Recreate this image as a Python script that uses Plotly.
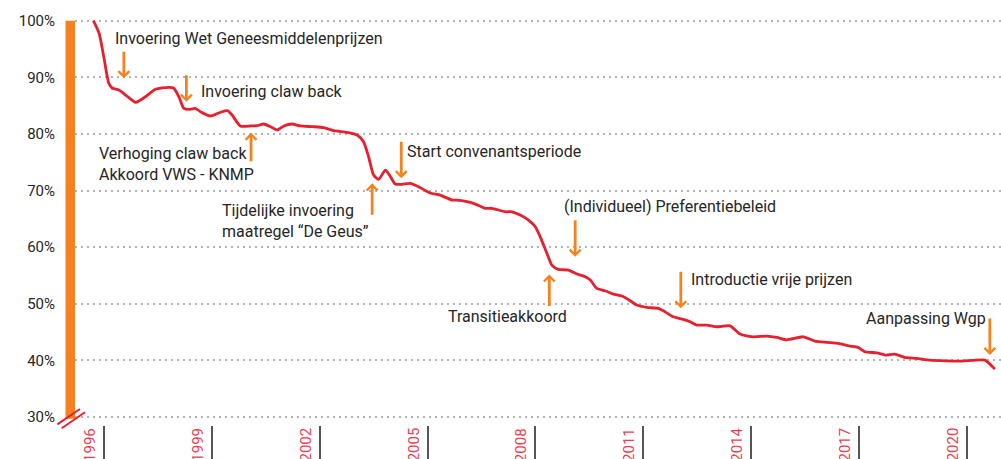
import plotly.graph_objects as go

# ---- data (year, index %) ----
years = [1995.70, 1995.86, 1995.99, 1996.13, 1996.23, 1996.41, 1996.60, 1996.88, 1997.15, 1997.43,
         1997.80, 1997.94, 1998.08, 1998.22, 1998.40, 1998.54, 1998.68, 1998.96, 1999.24, 1999.43,
         1999.56, 1999.79, 2000.07, 2000.26, 2000.44, 2000.63, 2000.82, 2001.00, 2001.23, 2001.46,
         2001.83, 2002.11, 2002.39, 2002.76, 2003.04, 2003.22, 2003.36, 2003.50, 2003.64, 2003.83,
         2003.97, 2004.10, 2004.29, 2004.52, 2004.75, 2005.07, 2005.35, 2005.68, 2005.82, 2006.10,
         2006.33, 2006.61, 2006.79, 2007.16, 2007.35, 2007.58, 2007.81, 2008.00, 2008.14, 2008.32,
         2008.46, 2008.64, 2008.92, 2009.16, 2009.39, 2009.53, 2009.71, 2009.94, 2010.17, 2010.41,
         2010.64, 2010.82, 2011.10, 2011.42, 2011.61, 2011.84, 2012.12, 2012.31, 2012.49, 2012.77,
         2013.05, 2013.42, 2013.70, 2014.07, 2014.44, 2014.72, 2014.99, 2015.46, 2015.78, 2016.11,
         2016.43, 2016.76, 2016.98, 2017.17, 2017.50, 2017.77, 2018.00, 2018.28, 2018.61, 2018.98,
         2019.44, 2019.81, 2020.18, 2020.51, 2020.79]
index_pct = [100.0, 97.77, 93.64, 88.94, 88.06, 87.76, 86.87, 85.58, 86.57, 87.88,
             88.23, 88.06, 86.57, 84.52, 84.35, 84.52, 83.92, 83.16, 83.82, 84.10,
             83.34, 81.40, 81.40, 81.45, 81.75, 81.27, 80.69, 81.40, 81.75, 81.40,
             81.27, 81.10, 80.57, 80.28, 79.81, 78.62, 75.97, 72.74, 71.98, 73.62,
             72.44, 71.15, 71.10, 71.27, 70.67, 69.56, 69.20, 68.32, 68.32, 68.02,
             67.61, 66.86, 66.86, 66.25, 66.25, 65.67, 64.79, 63.60, 61.78, 58.96,
             56.84, 56.08, 55.95, 55.25, 54.77, 54.19, 52.72, 52.30, 51.71, 51.36,
             50.53, 49.77, 49.36, 49.19, 48.59, 47.70, 47.24, 46.82, 46.24, 46.24,
             45.94, 46.11, 44.65, 44.17, 44.29, 44.06, 43.64, 44.17, 43.41, 43.18,
             43.00, 42.53, 42.30, 41.52, 41.34, 40.94, 41.11, 40.53, 40.35, 40.05,
             39.93, 39.88, 40.00, 40.05, 38.46]

tick_years = [1996, 1999, 2002, 2005, 2008, 2011, 2014, 2017, 2020]
y_ticks = [30, 40, 50, 60, 70, 80, 90, 100]

# events: label, text x (year), text y (%), arrow x (year), arrow head y (%), arrow tail offset px
event_labels = ["Invoering Wet Geneesmiddelenprijzen", "Invoering claw back",
                "Verhoging claw back<br>Akkoord VWS - KNMP",
                "Tijdelijke invoering<br>maatregel \u201cDe Geus\u201d", "Start convenantsperiode",
                "(Individueel) Preferentiebeleid", "Transitieakkoord",
                "Introductie vrije prijzen", "Aanpassing Wgp"]
event_text_x = [1996.26, 1998.64, 1995.81, 1999.22, 2004.37, 2008.74, 2005.52, 2012.29, 2017.16]
event_text_y = [96.77, 87.46, 74.65, 64.67, 76.98, 67.14, 47.70, 54.36, 47.42]
arrow_x = [1996.55, 1998.29, 2000.09, 2003.46, 2004.27, 2009.11, 2008.39, 2012.05, 2020.65]
arrow_y = [89.82, 85.69, 80.21, 71.27, 72.16, 58.30, 55.19, 49.19, 40.94]
arrow_tail = [-28, -28, 30, 33, -38, -38, 33, -38, -38]

RED = "#e8202e"
ORANGE = "#f5821f"
TEXT = "#262626"
TICKRED = "#ee3d52"
FONT = "Roboto"

y_min, y_max = 28.59, 101.0
x_min, x_max = 1995.19, 2020.96

fig = go.Figure()
fig.add_trace(go.Scatter(x=years, y=index_pct, mode="lines",
                         line=dict(color=RED, width=2.8, shape="spline", smoothing=0.6),
                         hoverinfo="skip", showlegend=False))

annotations = []
for lab, tx, ty in zip(event_labels, event_text_x, event_text_y):
    annotations.append(dict(x=tx, y=ty, xref="x", yref="y", text=lab, showarrow=False,
                            xanchor="left", yanchor="middle", align="left",
                            font=dict(family=FONT, size=16, color=TEXT)))
for ax_, ay_, tail in zip(arrow_x, arrow_y, arrow_tail):
    annotations.append(dict(x=ax_, y=ay_, xref="x", yref="y", text="", showarrow=True,
                            ax=0, ay=tail, arrowhead=4, arrowsize=0.75, arrowwidth=2.8,
                            arrowcolor=ORANGE, standoff=0))
for yr in tick_years:
    annotations.append(dict(x=yr, y=-0.002, xref="x", yref="paper", text=str(yr),
                            showarrow=False, textangle=-90, xanchor="center", yanchor="top",
                            xshift=-14, font=dict(family=FONT, size=15, color=TICKRED)))

def py(v):
    return (v - y_min) / (y_max - y_min)

shapes = [
    dict(type="rect", xref="paper", yref="paper", x0=-9.5 / 926, x1=0, y0=py(30) - 0.004, y1=py(100),
         fillcolor=ORANGE, line=dict(width=0), layer="above"),
    dict(type="line", xref="paper", yref="paper", x0=-0.0191, y0=0.0017, x1=0.0054, y1=0.039,
         line=dict(color=RED, width=2)),
    dict(type="line", xref="paper", yref="paper", x0=-0.0144, y0=-0.008, x1=0.0108, y1=0.031,
         line=dict(color=RED, width=2)),
]

fig.update_layout(
    width=1001, height=459,
    margin=dict(l=75, r=0, t=15, b=34),
    paper_bgcolor="white", plot_bgcolor="white",
    showlegend=False, hovermode=False,
    annotations=annotations, shapes=shapes,
    xaxis=dict(range=[x_min, x_max], showgrid=False, zeroline=False, showline=False,
               tickmode="array", tickvals=tick_years, showticklabels=False,
               ticks="outside", ticklen=34, tickwidth=2, tickcolor="#555555"),
    yaxis=dict(range=[y_min, y_max], tickmode="array", tickvals=y_ticks,
               ticktext=[f"{v}%" for v in y_ticks], showgrid=True, gridcolor="#b5b5b5",
               gridwidth=2, griddash="2px,4px", zeroline=False, showline=False,
               ticks="", ticklabelstandoff=19,
               tickfont=dict(family=FONT, size=15, color=TEXT)),
)

fig.write_html("out.html", config={"displayModeBar": False, "staticPlot": True},
               post_script="document.body.style.margin='0';document.body.style.overflow='hidden';")
